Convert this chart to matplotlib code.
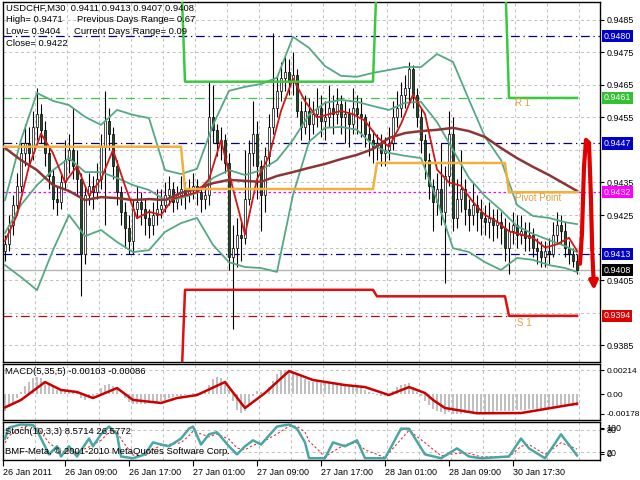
import numpy as np
import matplotlib
matplotlib.use("Agg")
import matplotlib.pyplot as plt

plt.rcParams['font.family'] = ['Liberation Sans', 'DejaVu Sans']

# USDCHF M30 candles, values in pips above 0.9400
opens = [14, 16, 22, 28, 34, 44, 47, 44, 52, 56,
         51, 44, 37, 30, 29, 35, 42, 45, 40, 36,
         13, 31, 34, 32, 36, 46, 54, 50, 40, 32,
         26, 21, 17, 27, 29, 27, 24, 22, 25, 27,
         28, 31, 33, 29, 31, 33, 31, 33, 34, 32,
         30, 31, 55, 51, 47, 48, 41, 12, 15, 19,
         18, 30, 44, 50, 40, 31, 43, 52, 58, 63,
         67, 69, 66, 68, 57, 52, 57, 53, 56, 58,
         54, 55, 58, 56, 59, 55, 56, 53, 58, 56,
         55, 50, 48, 46, 47, 44, 45, 47, 55, 58,
         62, 64, 70, 62, 55, 48, 42, 34, 29, 33,
         26, 37, 50, 24, 30, 33, 27, 25, 28, 26,
         24, 23, 24, 22, 23, 21, 15, 20, 22, 19,
         20, 18, 19, 15, 14, 12, 14, 13, 19, 22,
         20, 15, 13, 11]
highs = [19, 25, 31, 38, 47, 53, 52, 57, 64, 59,
         54, 46, 39, 34, 38, 48, 50, 58, 45, 38,
         34, 38, 37, 41, 50, 63, 58, 52, 42, 34,
         29, 25, 30, 34, 32, 30, 27, 29, 33, 33,
         35, 37, 35, 34, 37, 35, 36, 38, 36, 34,
         35, 66, 65, 53, 52, 50, 44, 22, 24, 23,
         45, 48, 60, 54, 42, 46, 56, 81, 68, 72,
         74, 73, 75, 70, 60, 62, 61, 60, 64, 62,
         60, 65, 62, 64, 62, 60, 58, 64, 62, 61,
         56, 54, 51, 50, 50, 49, 52, 60, 63, 66,
         68, 72, 71, 64, 58, 50, 44, 36, 38, 47,
         40, 57, 55, 36, 45, 36, 30, 35, 31, 30,
         28, 29, 27, 27, 26, 24, 23, 26, 25, 25,
         23, 23, 21, 18, 17, 17, 18, 23, 26, 25,
         23, 17, 15, 13]
lows = [11, 14, 19, 25, 32, 40, 40, 42, 48, 47,
        40, 33, 27, 25, 27, 33, 38, 36, 31, 0,
        10, 28, 27, 30, 33, 22, 45, 36, 28, 22,
        15, 13, 13, 24, 22, 19, 18, 19, 22, 24,
        26, 28, 26, 27, 28, 27, 29, 30, 28, 26,
        27, 28, 47, 43, 42, 38, 8, -10, 9, 11,
        16, 28, 40, 30, 20, 26, 40, 50, 55, 60,
        63, 62, 62, 55, 48, 50, 48, 50, 52, 49,
        48, 52, 50, 53, 50, 47, 46, 50, 50, 49,
        46, 43, 41, 42, 40, 40, 42, 45, 52, 55,
        58, 60, 58, 52, 44, 36, 30, 20, 25, 22,
        4, 34, 20, 21, 26, 22, 20, 22, 20, 19,
        19, 18, 17, 18, 16, 11, 7, 16, 15, 16,
        14, 14, 12, 10, 9, 9, 10, 12, 16, 16,
        12, 10, 9, 7]
closes = [16, 22, 28, 34, 44, 47, 44, 52, 56, 51,
          44, 37, 30, 29, 35, 42, 45, 40, 36, 13,
          31, 34, 32, 36, 46, 54, 50, 40, 32, 26,
          21, 17, 27, 29, 27, 24, 22, 25, 27, 28,
          31, 33, 29, 31, 33, 31, 33, 34, 32, 30,
          31, 55, 51, 47, 48, 41, 12, 15, 19, 18,
          30, 44, 50, 40, 31, 43, 52, 58, 63, 67,
          69, 66, 68, 57, 52, 57, 53, 56, 58, 54,
          55, 58, 56, 59, 55, 56, 53, 58, 56, 55,
          50, 48, 46, 47, 44, 45, 47, 55, 58, 62,
          64, 70, 62, 55, 48, 42, 34, 29, 33, 26,
          37, 50, 24, 30, 33, 27, 25, 28, 26, 24,
          23, 24, 22, 23, 21, 15, 20, 22, 19, 20,
          18, 19, 15, 14, 12, 14, 13, 19, 22, 20,
          15, 13, 11, 8]

# Bollinger bands and slow MA, read every 4 bars (pips)
band_bars = list(range(0, 141, 4)) + [143]
bb_upper = [29.6, 48.1, 62.5, 60.1, 58.8, 55.2, 52.7, 57.3, 55.8, 54.8,
            38.8, 37.6, 39.2, 52.7, 63.2, 64.4, 65.3, 67.2, 79.8, 76.4,
            70.8, 67.8, 67.5, 68.7, 69.6, 70.5, 70.5, 74.5, 72.1, 60.4,
            49.0, 41.9, 28.1, 24.7, 24.1, 22.8, 22.2]
bb_mid = [19.5, 28.1, 34.2, 38.8, 42.5, 38.2, 38.2, 36.4, 34.2, 32.7,
          29.6, 30.2, 31.8, 36.4, 38.8, 37.3, 38.8, 41.9, 48.1, 55.8,
          59.5, 60.4, 59.8, 58.5, 57.3, 59.5, 59.8, 53.6, 45.0, 36.4,
          30.8, 26.5, 21.6, 19.2, 17.3, 15.5, 13.6]
bb_lower = [9.6, 5.9, 1.9, 14.2, 25.0, 18.5, 20.4, 16.7, 13.6, 14.2,
            19.8, 22.5, 24.1, 15.8, 10.5, 9.0, 8.7, 7.5, 31.2, 47.5,
            51.8, 52.1, 51.2, 46.5, 44.1, 43.2, 42.5, 29.6, 14.8, 13.6,
            10.5, 8.1, 11.8, 11.2, 9.6, 8.7, 7.5]
ma_slow = [45.6, 41.9, 38.8, 34.2, 32.4, 29.6, 30.5, 30.2, 29.6, 29.9,
           29.6, 31.8, 33.0, 34.8, 35.8, 35.5, 35.2, 37.0, 38.2, 39.5,
           40.7, 42.2, 43.5, 45.3, 48.7, 50.2, 50.8, 51.2, 51.8, 50.8,
           49.0, 45.6, 42.5, 39.8, 37.3, 34.5, 32.4]

# fast MA, read every 3 bars
fast_bars = list(range(0, 142, 3)) + [143]
ma_fast = [17, 25, 40, 50, 44, 35, 40, 31, 36, 45,
           34, 24, 26, 25, 30, 31, 32, 36, 48, 33,
           19, 36, 43, 57, 67, 60, 55, 56, 57, 56,
           54, 49, 46, 53, 62, 56, 39, 35, 34, 29,
           25, 23, 20, 19, 18, 15, 16, 18, 14]

# MACD(5,35,5) histogram, one value per bar, units of 1e-5
macd_hist = [-150, -120, -80, -40,
             20, 70, 110, 140, 150, 140, 120,
             90, 60, 40, 30,
             30, 35, 30, 20,
             -40, -50, -40, -30,
             10, 50, 80, 85, 70, 40,
             0, -40, -70, -90, -90,
             -90, -85, -80, -75, -70, -60,
             -50, -40, -30, -20, -15, -5, 0, 5, 10,
             10, 15, 80, 130, 150, 145, 120,
             40, -60, -140, -170, -150,
             -90, -20, 30, 20, 10,
             60, 120, 180, 210, 214, 205,
             190, 170, 150, 130, 120, 110,
             105, 100, 98, 95, 92, 90, 86, 82,
             78, 72, 65, 55, 40,
             20, 5, -10, -15, -20, -10,
             30, 60, 80, 90, 95,
             60, 20, -20, -60, -100, -130,
             -150, -165, -175, -165, -175, -178, -175, -172, -170, -170, -168,
             -165, -162, -160, -158, -155, -152, -150, -150, -148, -145, -142,
             -140, -138, -135, -132, -130, -128, -125, -120, -115, -112, -110, -108, -105, -103]
# MACD signal line, read at these bars
signal_bars = [0, 4, 10, 14, 18, 22, 28, 32, 39, 43, 48, 55, 60, 65, 71, 77, 85,
               90, 96, 101, 105, 107, 110, 118, 129, 143]
macd_signal = [-120, -53, 107, 36, 18, -36, 53, -53, -80, -36, -9, 107, -125, 9, 205,
               125, 80, 62, -9, 62, 9, -53, -125, -172, -170, -86]

# Stochastic(10,3,3), read at these bars
stoch_bars = [0, 1, 4, 7, 8, 11, 13, 14, 16, 18, 21, 22, 24, 26, 28, 29, 32, 35, 37, 39,
              41, 44, 46, 47, 49, 51, 53, 56, 58, 60, 62, 64, 68, 71, 73, 75, 76, 80, 82,
              85, 88, 90, 95, 99, 101, 105, 109, 113, 116, 119, 126, 129, 131, 135, 139, 143]
stoch_main = [57, 88, 97, 95, 80, 12, 35, 6, 35, 6, 57, 35, 69, 91, 69, 6, 1, 12, 46, 40,
              35, 57, 85, 91, 40, 69, 75, 35, 12, 35, 52, 40, 91, 97, 85, 46, 1, 1, 46,
              35, 52, 1, 1, 85, 85, 12, 1, 29, 6, 1, 6, 57, 29, 1, 69, 9]
stoch_signal = [45, 65, 88, 95, 90, 45, 28, 20, 22, 18, 33, 40, 52, 75, 78, 55, 10, 8, 25, 38,
                40, 45, 65, 78, 70, 62, 70, 55, 30, 25, 38, 45, 70, 92, 92, 75, 50, 5, 20,
                40, 45, 25, 3, 55, 80, 45, 8, 15, 15, 5, 5, 35, 40, 12, 45, 27]

# daily pivot levels (pips), one value per day
day_start = [-0.5, 45, 93, 126]
day_end = [44, 92, 125, 143]
r1_levels = [100, 66, 100, 61]
pivot_levels = [46, 33, 41, 32]
s1_levels = [-30, 2, 0, -6]

# hand drawn arrow
arrow_x = [143.75, 144.25, 144.75, 145.25, 146.0, 146.5, 146.8]
arrow_y = [10, 19.5, 39.8, 48.1, 47.2, 29.6, 14]

x_ticks = [-0.5, 15, 31, 47, 63, 79, 95, 111, 127]
x_labels = ['26 Jan 2011', '26 Jan 09:00', '26 Jan 17:00', '27 Jan 01:00', '27 Jan 09:00',
            '27 Jan 17:00', '28 Jan 01:00', '28 Jan 09:00', '30 Jan 17:30']


def price(p):
    return 0.94 + np.asarray(p, dtype=float) / 10000


def rect(x0, y0, x1, y1):
    return [x0 / 640, 1 - y1 / 480, (x1 - x0) / 640, (y1 - y0) / 480]


fig = plt.figure(figsize=(6.4, 4.8), dpi=100)
ax = fig.add_axes(rect(3, 2, 600, 362))
axm = fig.add_axes(rect(3, 364, 600, 420), sharex=ax)
axs = fig.add_axes(rect(3, 422, 600, 460), sharex=ax)

grid_kw = dict(color='#c0c0c0', lw=0.7, ls=(0, (3, 3)), zorder=0)
for a in (ax, axm, axs):
    for gx in np.arange(7.5, 148, 8):
        a.axvline(gx, **grid_kw)
    for s in a.spines.values():
        s.set_color('black')
        s.set_linewidth(1)
    a.tick_params(axis='y', left=False, labelleft=False, right=True, labelright=True,
                  labelsize=6.4, length=3, pad=1.5, colors='black')
    a.tick_params(axis='x', bottom=False, labelbottom=False)

ax.set_xlim(-0.5, 148.75)

# ---- main price panel ----
ax.set_ylim(0.93798, 0.94905)
yt = np.round(np.arange(0.9385, 0.9486, 0.001), 4)
for v in yt:
    ax.axhline(v, **grid_kw)
shown = [v for v in yt if v not in (0.9445, 0.9415, 0.9395)]
ax.set_yticks(shown)
ax.set_yticklabels([f'{v:.4f}' for v in shown])

x = np.arange(len(closes))
o, h, l, c = price(opens), price(highs), price(lows), price(closes)
body = np.where(np.abs(c - o) < 1e-7, 0.000015, c - o)
ax.vlines(x, l, h, color='black', lw=0.8, zorder=3)
ax.bar(x, body, bottom=o, width=0.6, color=np.where(c >= o, 'white', '#1f4d26'),
       edgecolor='black', lw=0.5, zorder=4)

bb_col = '#55a883'
ax.plot(band_bars, price(bb_upper), color=bb_col, lw=1.3, zorder=5)
ax.plot(band_bars, price(bb_mid), color=bb_col, lw=1.3, zorder=5)
ax.plot(band_bars, price(bb_lower), color=bb_col, lw=1.3, zorder=5)
ax.plot(band_bars, price(ma_slow), color='#8b3535', lw=1.8, zorder=5)
ax.plot(fast_bars, price(ma_fast), color='#d01818', lw=1.3, zorder=5)


def steps(levels):
    xs, ys = [], []
    for s, e, lv in zip(day_start, day_end, levels):
        xs += [s, e]
        ys += [lv, lv]
    return xs, price(ys)


ax.plot(*steps(r1_levels), color='#3cc83c', lw=1.8, zorder=6)
ax.plot(*steps(pivot_levels), color='#f0b040', lw=1.8, zorder=6)
ax.plot(*steps(s1_levels), color='#dd1010', lw=1.8, zorder=6)

navy_dash = (0, (7, 3, 1, 3))
ax.axhline(0.9480, color='#000080', lw=0.9, ls=navy_dash, zorder=2)
ax.axhline(0.9447, color='#000080', lw=0.9, ls=navy_dash, zorder=2)
ax.axhline(0.9413, color='#000080', lw=0.9, ls=navy_dash, zorder=2)
ax.axhline(0.9432, color='#ff00ff', lw=0.9, ls=(0, (2, 2)), zorder=2)
ax.axhline(0.9408, color='#b4b4b4', lw=1.0, zorder=2)
ax.hlines(0.9461, -0.5, 143, color='#3cc83c', lw=0.9, ls=navy_dash, zorder=2)
ax.hlines(0.9394, -0.5, 143, color='#b01010', lw=0.9, ls=navy_dash, zorder=2)

lab_col = '#e0a040'
ax.text(127.5, 0.94595, 'R 1', color=lab_col, fontsize=7, va='center', zorder=7)
ax.text(127.5, 0.94301, 'Pivot Point', color=lab_col, fontsize=7, va='center', zorder=7)
ax.text(128, 0.93918, 'S 1', color=lab_col, fontsize=7, va='center', zorder=7)

ytr = ax.get_yaxis_transform()
for val, col in [(0.9480, '#0000c8'), (0.9461, '#33c033'), (0.9447, '#0000c8'),
                 (0.9432, '#ff00ff'), (0.9413, '#0000c8'), (0.9408, 'black'),
                 (0.9394, '#dd0000')]:
    ax.text(1.006, val, f'{val:.4f}', transform=ytr, fontsize=6.4, color='white',
            va='center', ha='left', zorder=10, clip_on=False,
            bbox=dict(boxstyle='square,pad=0.18', fc=col, ec='none'))

ax.plot(arrow_x, price(arrow_y), color='#e00000', lw=3, solid_capstyle='round',
        clip_on=False, zorder=8)
ax.annotate('', xy=(147.3, price(1)), xytext=(146.8, price(14)),
            arrowprops=dict(arrowstyle='-|>', color='#e00000', lw=3, mutation_scale=12),
            annotation_clip=False, zorder=8)

# ---- MACD panel ----
axm.set_ylim(-0.00232, 0.00268)
axm.bar(x, np.asarray(macd_hist) / 1e5, width=0.5, color='#c0c0c0', zorder=2)
axm.plot(signal_bars, np.asarray(macd_signal) / 1e5, color='#cc0000', lw=1.8, zorder=3)
axm.axhline(0.00214, **grid_kw)
axm.set_yticks([0.00214, 0.0, -0.00178])
axm.set_yticklabels(['0.00214', '0.00', '-0.00178'])
axm.tick_params(axis='y', labelsize=6.0)

# ---- Stochastic panel ----
axs.set_ylim(-4, 104)
axs.axhline(80, **grid_kw)
axs.axhline(20, **grid_kw)
axs.plot(stoch_bars, stoch_signal, color='#e03030', lw=0.8, ls=(0, (2, 2)), zorder=2)
axs.plot(stoch_bars, stoch_main, color='#4aa6a6', lw=1.8, zorder=3)
axs.set_yticks([88, 84, 18, 14])
axs.set_yticklabels(['100', '80', '20', '0'])
axs.tick_params(axis='x', bottom=True, labelbottom=True, labelsize=6.5, length=4, pad=2)
axs.set_xticks(x_ticks)
axs.set_xticklabels(x_labels, ha='left')


# ---- texts ----
def ftext(px_x, px_y, s, **kw):
    fig.text(px_x / 640, 1 - px_y / 480, s, fontsize=6.8, va='center', ha='left', **kw)


ftext(6, 8, 'USDCHF,M30  0.9411 0.9413 0.9407 0.9408')
ftext(6, 20, 'High= 0.9471')
ftext(77, 20, 'Previous Days Range= 0.67')
ftext(6, 32, 'Low= 0.9404')
ftext(74, 32, 'Current Days Range= 0.09')
ftext(6, 44, 'Close= 0.9422')
ftext(5, 372, 'MACD(5,35,5) -0.00103 -0.00086')
ftext(5, 432, 'Stoch(10,3,3) 8.5714 26.5772')
ftext(5, 452, 'BMF-Meta, © 2001-2010 MetaQuotes Software Corp.')

fig.savefig('out.png', dpi=100)
